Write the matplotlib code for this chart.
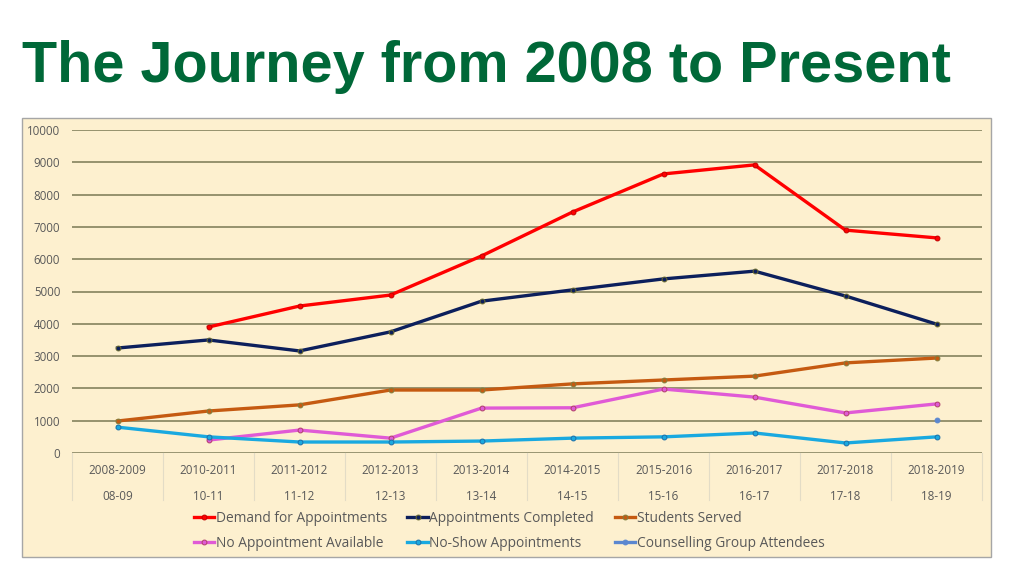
import numpy as np
import matplotlib.pyplot as plt
from matplotlib.patches import Rectangle
from matplotlib.lines import Line2D
import matplotlib.transforms as mtransforms

# data
years_long = ['2008-2009', '2010-2011', '2011-2012', '2012-2013', '2013-2014',
              '2014-2015', '2015-2016', '2016-2017', '2017-2018', '2018-2019']
years_short = ['08-09', '10-11', '11-12', '12-13', '13-14',
               '14-15', '15-16', '16-17', '17-18', '18-19']

demand = [np.nan, 3900, 4550, 4890, 6100, 7460, 8640, 8920, 6900, 6660]
completed = [3250, 3500, 3160, 3750, 4700, 5050, 5390, 5630, 4860, 3990]
students = [990, 1300, 1490, 1950, 1950, 2140, 2260, 2380, 2790, 2940]
no_appt = [np.nan, 400, 710, 460, 1390, 1400, 1980, 1730, 1240, 1520]
no_show = [800, 500, 340, 340, 370, 460, 500, 620, 310, 500]
counselling = [np.nan] * 9 + [1020]

series = [
    ('Demand for Appointments', demand, '#FF0000', '#C00000'),
    ('Appointments Completed', completed, '#0C1F5C', '#6B6B2E'),
    ('Students Served', students, '#C55A11', '#7F7F3F'),
    ('No Appointment Available', no_appt, '#E05AD6', '#B0406A'),
    ('No-Show Appointments', no_show, '#19A9E0', '#1D6FA8'),
    ('Counselling Group Attendees', counselling, '#5B87D0', '#5B87D0'),
]

BG = '#FDF0CF'
TXT = '#595959'
font = ['Open Sans', 'DejaVu Sans']

fig = plt.figure(figsize=(10.24, 5.76), dpi=100)
fig.patch.set_facecolor('white')

# cream chart panel
fig.patches.append(Rectangle((22 / 1024, 1 - 557 / 576), 969 / 1024, 439 / 576,
                             transform=fig.transFigure, facecolor=BG,
                             edgecolor='#A6A6A6', linewidth=1.0, zorder=-5))

fig.text(22 / 1024, 1 - 67 / 576, 'The Journey from 2008 to Present',
         family=['Liberation Sans Narrow', 'Liberation Sans'], weight='bold',
         fontsize=41.5, color='#006838', va='center', ha='left')

ax = fig.add_axes([72 / 1024, 1 - 453 / 576, 910 / 1024, 323 / 576])
ax.set_facecolor('none')

x = np.arange(len(years_long))
for name, vals, col, mec in series:
    ax.plot(x, vals, color=col, lw=2.4, marker='o', ms=3.5,
            mfc=col, mec=mec, mew=0.7, zorder=3, solid_joinstyle='round')

ax.set_xlim(-0.5, len(x) - 0.5)
ax.set_ylim(0, 10000)
ax.set_yticks(np.arange(0, 10001, 1000))
ax.yaxis.grid(True, color='#84825E', lw=1.2)
ax.set_axisbelow(True)
for s in ax.spines.values():
    s.set_visible(False)
ax.tick_params(axis='y', length=0, pad=8.5, labelsize=8.3, labelcolor=TXT)
for lab in ax.get_yticklabels():
    lab.set_family(font)
ax.set_xticks(x)
ax.set_xticklabels([])
ax.tick_params(axis='x', length=0)

# two-level category labels with separators
trans = mtransforms.blended_transform_factory(ax.transData, ax.transAxes)
ax.axhline(0, color='#D9D2BC', lw=0.8, zorder=1)
for i in range(len(x) + 1):
    ax.plot([i - 0.5, i - 0.5], [0, -47 / 323], transform=trans,
            color='#E3DCC6', lw=0.8, clip_on=False)
for i in x:
    ax.text(i, -18 / 323, years_long[i], transform=trans, ha='center',
            va='center', fontsize=8.4, color=TXT, family=font)
    ax.text(i, -43 / 323, years_short[i], transform=trans, ha='center',
            va='center', fontsize=8.4, color=TXT, family=font)

# legend, row-major order
handles = [Line2D([], [], color=c, lw=2.4, marker='o', ms=3.5, mfc=c, mec=m,
                  mew=0.7) for _, _, c, m in series]
labels = [s[0] for s in series]
order = [0, 3, 1, 4, 2, 5]
fig.legend([handles[i] for i in order], [labels[i] for i in order],
           ncol=3, loc='center', bbox_to_anchor=(509 / 1024, 1 - 531 / 576),
           frameon=False, handlelength=1.5, handletextpad=0.1,
           columnspacing=1.5, labelspacing=0.75,
           prop={'family': font, 'size': 9.9}, labelcolor=TXT)

fig.savefig('out.png', dpi=100, facecolor='white')
